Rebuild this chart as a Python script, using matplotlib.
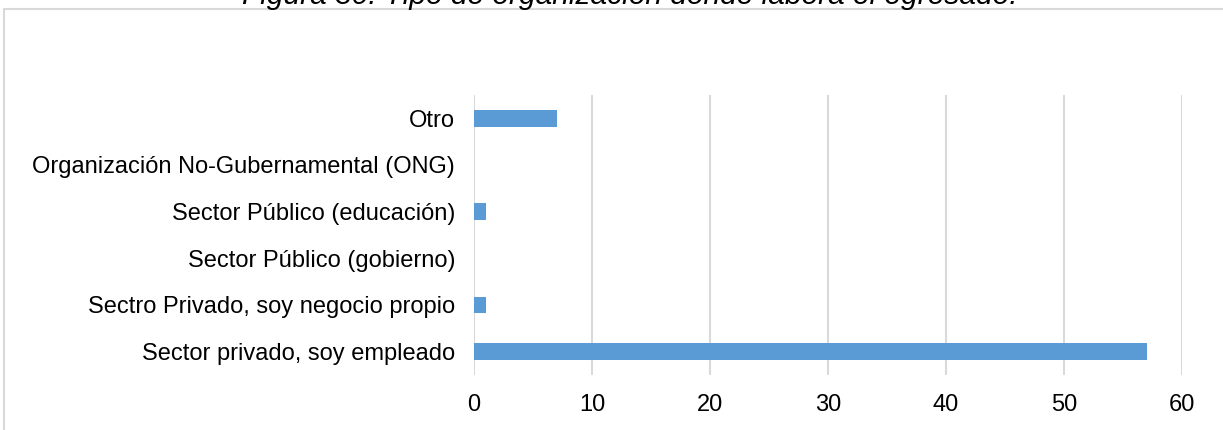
import matplotlib
matplotlib.use("Agg")
import matplotlib.pyplot as plt
from matplotlib.patches import Rectangle

categories = [
    "Sector privado, soy empleado",
    "Sectro Privado, soy negocio propio",
    "Sector Público (gobierno)",
    "Sector Público (educación)",
    "Organización No-Gubernamental (ONG)",
    "Otro",
]
values = [57, 1, 0, 1, 0, 7]
x_ticks = [0, 10, 20, 30, 40, 50, 60]
title = "Figura 30. Tipo de organización donde labora el egresado."

plt.rcParams['font.family'] = ['Liberation Sans', 'DejaVu Sans']

W, H = 1223, 430
fig = plt.figure(figsize=(W / 100, H / 100), dpi=100)
ax = fig.add_axes([474 / W, 1 - 375 / H, (1182 - 474) / W, (375 - 95) / H])

ypos = list(range(len(categories)))
ax.barh(ypos, values, height=0.36, color="#5B9BD5", linewidth=0, zorder=3)
ax.set_yticks(ypos)
ax.set_yticklabels(categories, fontsize=17)
ax.set_ylim(-0.5, 5.5)
ax.set_xlim(0, 60)
ax.set_xticks(x_ticks)
ax.set_xticklabels([str(t) for t in x_ticks], fontsize=17)
ax.tick_params(length=0)
ax.tick_params(axis='x', pad=14)
ax.tick_params(axis='y', pad=13.5)
for s in ax.spines.values():
    s.set_visible(False)
ax.grid(axis='x', color="#d9d9d9", linewidth=1.5, zorder=0)

# outer border of the chart area
fig.patches.append(Rectangle((3.5 / W, -0.1), 1.2, 1 - 8.5 / H + 0.1, transform=fig.transFigure,
                             fill=False, edgecolor="#d9d9d9", linewidth=1.5))

fig.text(630 / W, 1 - 4 / H, title, ha='center', va='baseline', fontsize=21.5, style='italic')

fig.savefig("out.png", dpi=100)
